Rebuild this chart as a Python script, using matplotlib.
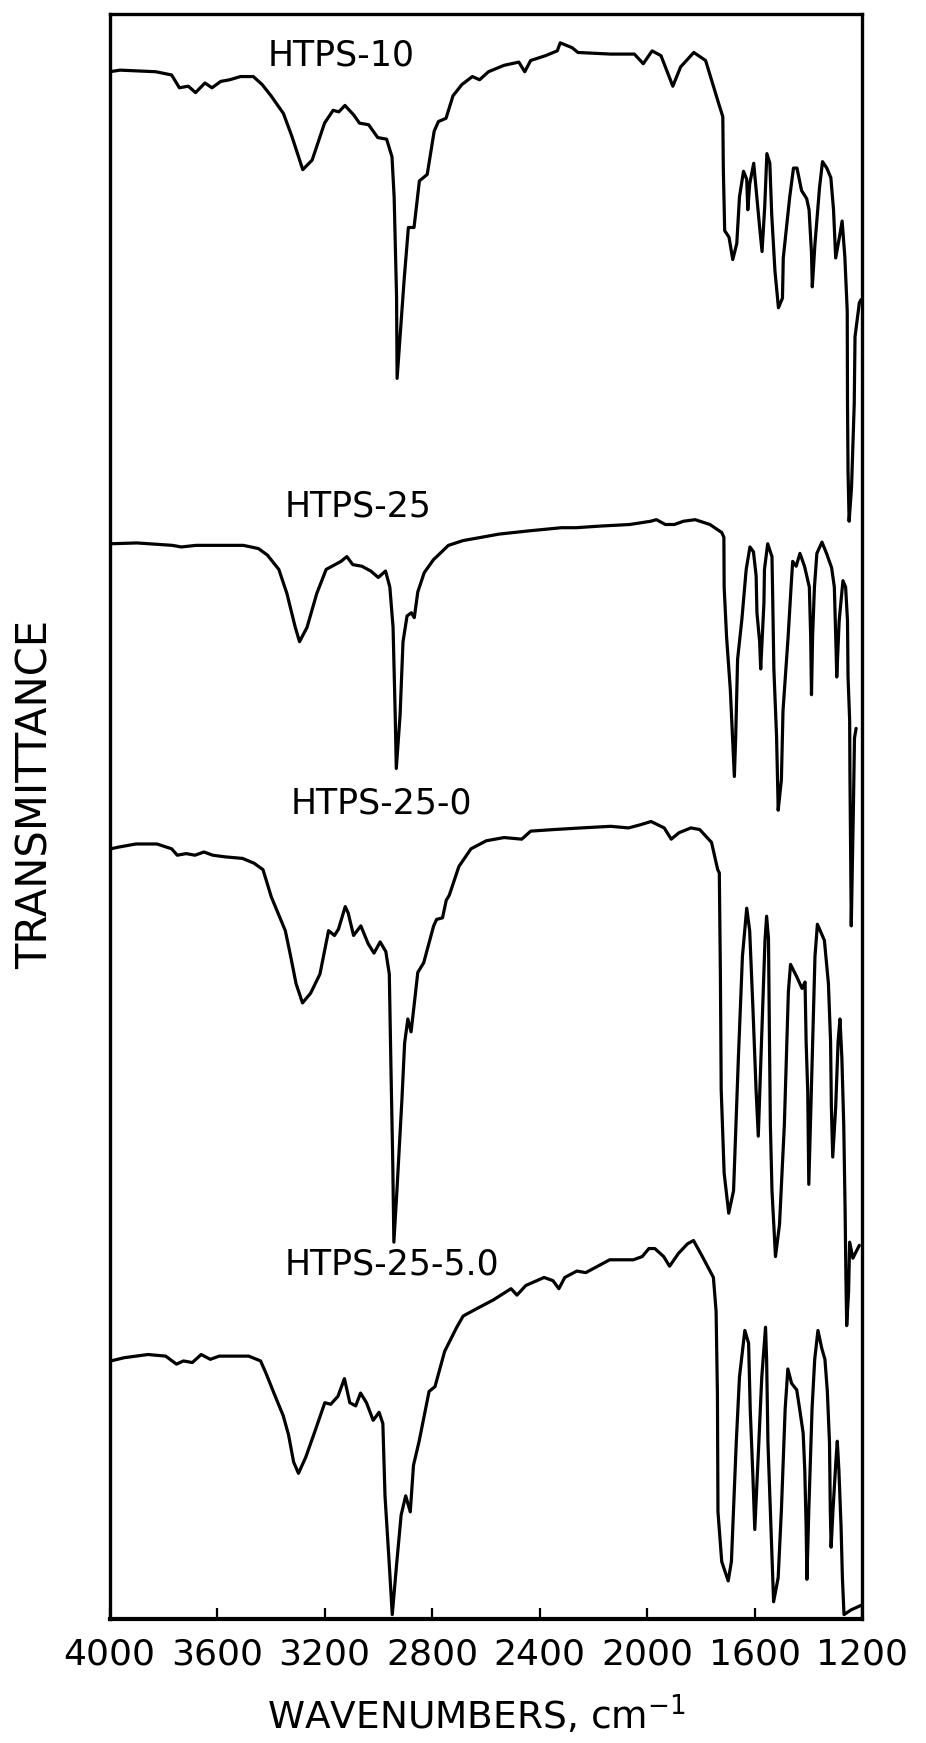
import matplotlib.pyplot as plt

# IR spectra: wavenumber (cm-1) and
# transmittance in arbitrary offset units (0 = bottom of frame, 100 = top)
htps10_wn = [4000, 3961, 3828, 3769, 3740, 3707, 3680, 3645, 3619, 3586, 3553, 3513, 3465, 3432,
             3399, 3353, 3322, 3281, 3246, 3200, 3168, 3147, 3124, 3091, 3070, 3036, 3002, 2969,
             2949, 2941, 2932, 2930, 2904, 2888, 2867, 2847, 2818, 2792, 2776, 2748, 2722, 2689,
             2650, 2623, 2590, 2532, 2477, 2455, 2433, 2378, 2334, 2323, 2279, 2257, 2135, 2047,
             2014, 1981, 1948, 1904, 1875, 1826, 1782, 1733, 1718, 1716, 1711, 1695, 1681, 1666,
             1656, 1641, 1629, 1625, 1618, 1603, 1597, 1582, 1572, 1562, 1554, 1543, 1536, 1524,
             1511, 1496, 1493, 1469, 1455, 1442, 1425, 1406, 1397, 1388, 1385, 1375, 1358, 1347,
             1331, 1316, 1306, 1298, 1284, 1274, 1264, 1255, 1254, 1252, 1248, 1239, 1229, 1226,
             1210, 1204]
htps10_t = [96.4, 96.5, 96.4, 96.2, 95.4, 95.5, 95.1, 95.7, 95.4, 95.8, 95.9, 96.1, 96.1, 95.6,
            94.9, 93.8, 92.4, 90.3, 90.9, 93.2, 94.0, 93.9, 94.3, 93.7, 93.2, 93.1, 92.3, 92.2,
            91.1, 88.6, 82.4, 77.3, 83.4, 86.7, 86.7, 89.6, 90.0, 92.7, 93.3, 93.5, 94.9, 95.6,
            96.1, 95.9, 96.4, 96.8, 97.0, 96.4, 97.1, 97.4, 97.7, 98.2, 97.9, 97.6, 97.5, 97.5,
            96.9, 97.7, 97.4, 95.5, 96.7, 97.6, 97.1, 94.4, 93.6, 90.3, 86.5, 86.1, 84.7, 85.7,
            88.6, 90.2, 89.7, 87.8, 89.4, 90.7, 89.6, 86.9, 85.2, 88.0, 91.3, 90.7, 87.5, 84.0,
            81.7, 82.3, 84.8, 88.6, 90.4, 90.4, 89.0, 88.5, 87.8, 85.1, 83.0, 85.7, 89.2, 90.8,
            90.4, 89.8, 87.8, 84.8, 86.1, 87.1, 84.9, 81.5, 75.7, 71.5, 68.4, 70.5, 75.7, 79.9,
            82.0, 82.2]

htps25_wn = [3995, 3898, 3766, 3733, 3678, 3502, 3446, 3413, 3370, 3340, 3309, 3293, 3265, 3229,
             3194, 3161, 3139, 3117, 3095, 3061, 3028, 3000, 2973, 2957, 2945, 2937, 2933, 2919,
             2908, 2893, 2877, 2866, 2853, 2829, 2795, 2739, 2684, 2617, 2551, 2441, 2318, 2263,
             2175, 2064, 1987, 1965, 1932, 1898, 1865, 1821, 1766, 1722, 1714, 1713, 1704, 1690,
             1682, 1675, 1670, 1663, 1647, 1631, 1617, 1604, 1594, 1591, 1581, 1577, 1565, 1563,
             1551, 1535, 1532, 1528, 1518, 1513, 1512, 1500, 1494, 1475, 1464, 1458, 1445, 1431,
             1414, 1396, 1391, 1388, 1384, 1377, 1368, 1349, 1332, 1313, 1303, 1296, 1294, 1285,
             1271, 1261, 1254, 1252, 1246, 1245, 1240, 1232, 1228, 1222]
htps25_t = [67.0, 67.05, 66.9, 66.8, 66.9, 66.9, 66.7, 66.3, 65.4, 63.9, 61.8, 60.9, 61.8, 63.9,
            65.4, 65.7, 65.9, 66.2, 65.7, 65.6, 65.3, 64.9, 65.3, 64.3, 61.8, 56.3, 53.0, 56.3,
            60.9, 62.5, 62.7, 62.4, 64.0, 65.2, 66.0, 66.9, 67.2, 67.4, 67.6, 67.8, 68.0, 68.0,
            68.1, 68.2, 68.4, 68.5, 68.2, 68.2, 68.4, 68.5, 68.2, 67.7, 67.4, 64.3, 61.2, 57.9,
            55.0, 52.5, 55.0, 59.8, 62.3, 65.4, 66.8, 66.5, 65.0, 62.7, 60.9, 59.2, 63.3, 65.4,
            67.0, 66.2, 63.3, 59.2, 55.0, 51.3, 50.4, 52.3, 56.6, 61.2, 64.3, 65.9, 65.6, 66.4,
            65.6, 64.3, 61.2, 57.6, 61.2, 64.3, 66.4, 67.1, 66.4, 65.5, 64.3, 60.1, 58.7, 62.2,
            64.7, 64.3, 62.2, 58.7, 56.0, 52.8, 43.2, 50.6, 54.9, 55.5]

htps25_0_wn = [3995, 3968, 3902, 3824, 3769, 3748, 3715, 3682, 3649, 3616, 3571, 3505, 3462, 3429,
               3398, 3346, 3326, 3306, 3282, 3252, 3217, 3185, 3163, 3148, 3123, 3112, 3092, 3065,
               3038, 3016, 2993, 2972, 2959, 2953, 2946, 2942, 2931, 2912, 2902, 2890, 2878, 2867,
               2853, 2831, 2794, 2783, 2761, 2747, 2736, 2700, 2655, 2598, 2532, 2466, 2433, 2345,
               2245, 2135, 2069, 2024, 1985, 1936, 1910, 1881, 1837, 1804, 1760, 1737, 1731, 1727,
               1724, 1713, 1696, 1678, 1660, 1645, 1629, 1618, 1606, 1594, 1586, 1576, 1561, 1555,
               1548, 1545, 1541, 1535, 1522, 1507, 1489, 1474, 1466, 1442, 1423, 1412, 1408, 1402,
               1398, 1387, 1375, 1366, 1340, 1325, 1317, 1314, 1309, 1298, 1289, 1282, 1275, 1268,
               1263, 1260, 1257, 1250, 1246, 1234, 1210]
htps25_0_t = [48.0, 48.1, 48.3, 48.3, 48.0, 47.6, 47.7, 47.6, 47.8, 47.6, 47.5, 47.4, 47.1, 46.7,
              45.0, 42.9, 41.3, 39.6, 38.4, 39.0, 40.2, 42.9, 42.6, 43.0, 44.4, 44.0, 42.6, 43.2,
              42.1, 41.5, 42.2, 41.6, 40.2, 34.5, 28.3, 23.5, 26.6, 32.4, 35.9, 37.4, 36.6, 38.2,
              40.3, 40.9, 43.2, 43.6, 43.7, 44.8, 45.1, 46.9, 48.0, 48.5, 48.7, 48.6, 49.1, 49.2,
              49.3, 49.4, 49.3, 49.5, 49.7, 49.3, 48.6, 49.0, 49.3, 49.2, 48.4, 46.7, 46.5, 40.2,
              33.0, 27.8, 25.3, 26.7, 35.0, 41.3, 44.3, 42.9, 38.1, 32.9, 30.1, 35.0, 42.3, 43.8,
              42.4, 37.1, 30.8, 26.7, 22.6, 24.6, 30.8, 39.1, 40.8, 40.0, 39.3, 39.7, 36.0, 32.9,
              27.1, 33.9, 41.3, 43.3, 42.3, 39.6, 36.0, 31.9, 28.8, 31.9, 36.0, 37.4, 35.0, 30.8,
              25.6, 21.4, 18.3, 20.4, 23.5, 22.5, 23.3]

htps25_5_wn = [3995, 3946, 3857, 3791, 3751, 3725, 3692, 3659, 3625, 3592, 3482, 3438, 3417, 3386,
               3354, 3334, 3315, 3297, 3270, 3234, 3199, 3177, 3150, 3126, 3106, 3084, 3066, 3044,
               3019, 2997, 2983, 2975, 2959, 2948, 2932, 2915, 2898, 2881, 2869, 2848, 2811, 2789,
               2753, 2708, 2684, 2640, 2572, 2506, 2484, 2451, 2383, 2350, 2328, 2306, 2261, 2228,
               2139, 2095, 2051, 2018, 1993, 1971, 1938, 1916, 1883, 1849, 1827, 1794, 1753, 1743,
               1738, 1736, 1722, 1698, 1686, 1668, 1656, 1636, 1622, 1616, 1606, 1599, 1584, 1573,
               1559, 1555, 1550, 1539, 1529, 1512, 1500, 1486, 1476, 1462, 1443, 1432, 1419, 1413,
               1408, 1405, 1398, 1386, 1376, 1364, 1350, 1338, 1329, 1321, 1318, 1315, 1308, 1297,
               1292, 1286, 1278, 1273, 1267, 1240, 1200]
htps25_5_t = [16.1, 16.3, 16.5, 16.4, 15.9, 16.1, 16.0, 16.5, 16.2, 16.4, 16.4, 16.1, 15.3, 14.0,
              12.7, 11.5, 9.8, 9.1, 10.1, 11.8, 13.5, 13.4, 13.9, 15.0, 13.5, 13.3, 14.1, 13.5,
              12.4, 12.9, 12.2, 7.7, 3.4, 0.3, 3.4, 6.5, 7.7, 6.7, 9.6, 11.1, 14.2, 14.5,
              16.7, 18.2, 18.9, 19.3, 19.9, 20.6, 20.2, 20.8, 21.3, 21.1, 20.6, 21.3, 21.7, 21.6,
              22.4, 22.4, 22.4, 22.6, 23.1, 23.1, 22.6, 22.0, 22.8, 23.4, 23.6, 22.6, 21.3, 19.2,
              14.0, 6.7, 3.6, 2.4, 3.6, 11.0, 15.1, 18.0, 17.2, 13.1, 8.9, 5.6, 11.0, 15.1,
              18.2, 16.2, 11.0, 5.8, 1.1, 2.6, 6.8, 13.1, 15.6, 14.7, 14.3, 13.1, 11.6, 9.3,
              5.8, 2.5, 6.8, 13.1, 16.2, 18.0, 16.9, 16.2, 14.2, 11.0, 6.8, 4.5, 6.8, 9.9,
              11.1, 9.3, 5.8, 2.6, 0.3, 0.6, 0.9]

names = ['HTPS-10', 'HTPS-25', 'HTPS-25-0', 'HTPS-25-5.0']
name_wn = [3140, 3075, 2990, 2950]
name_t = [97.4, 69.3, 50.8, 22.1]

xticks = [4000, 3600, 3200, 2800, 2400, 2000, 1600, 1200]

fig = plt.figure(figsize=(9.26, 17.43), dpi=100)
ax = fig.add_axes([0.1183, 0.0709, 0.8126, 0.9211])

spectra = [(htps10_wn, htps10_t), (htps25_wn, htps25_t),
           (htps25_0_wn, htps25_0_t), (htps25_5_wn, htps25_5_t)]
for wn, t in spectra:
    ax.plot(wn, t, color='black', linewidth=2.3, solid_joinstyle='round', solid_capstyle='round')

for name, x, y in zip(names, name_wn, name_t):
    ax.text(x, y, name, ha='center', va='center', fontsize=25, color='black')

ax.set_xlim(4000, 1200)
ax.set_ylim(0, 100)
ax.set_xticks(xticks)
ax.set_xticklabels([str(v) for v in xticks], fontsize=26)
ax.tick_params(axis='x', direction='in', length=8, width=1.6, pad=13)
ax.set_yticks([])
for side in ['left', 'right', 'top', 'bottom']:
    ax.spines[side].set_linewidth(2.4)
ax.spines['bottom'].set_linewidth(3.0)

fig.text(0.038, 0.544, 'TRANSMITTANCE', rotation=90, ha='center', va='center', fontsize=30)
fig.text(0.515, 0.016, 'WAVENUMBERS, cm$^{-1}$', ha='center', va='center', fontsize=27)

fig.savefig('out.png', dpi=100)
